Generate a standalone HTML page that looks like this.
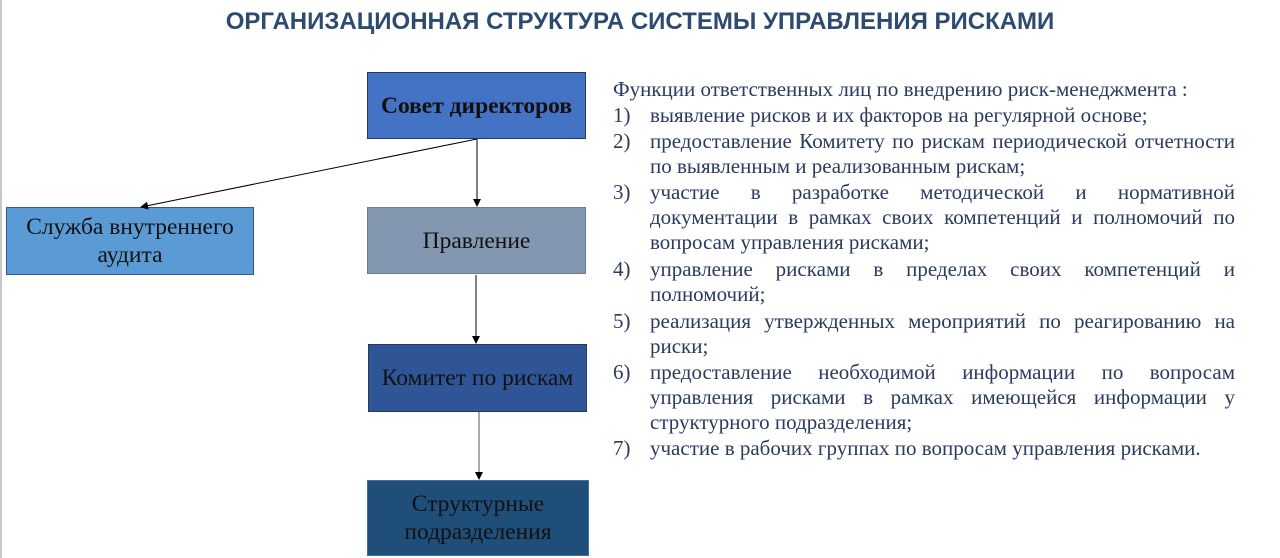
<!DOCTYPE html>
<html><head><meta charset="utf-8"><style>
body{margin:0;width:1280px;height:558px;background:#fff;position:relative;overflow:hidden;font-family:"Liberation Serif",serif}
.bl{position:absolute;left:0;top:0;width:2px;height:558px;background:#c8c8c8}
h1{position:absolute;top:8px;left:0;width:1280px;margin:0;text-align:center;font:bold 24px "Liberation Sans",sans-serif;color:#2d4a6f}
.box{position:absolute;box-sizing:border-box;border:1.5px solid #23395d;display:flex;align-items:center;justify-content:center;text-align:center;font-size:23.5px;line-height:28px;color:#111}
.t{position:absolute;font-size:21px;color:#2b3a5e;white-space:nowrap;line-height:25px}
.n{left:613px}
.l{left:650px;width:585px}
.j{text-align:justify;text-align-last:justify}
</style></head><body>
<div class="bl"></div>
<h1>ОРГАНИЗАЦИОННАЯ СТРУКТУРА СИСТЕМЫ УПРАВЛЕНИЯ РИСКАМИ</h1>
<div class="box" style="left:367px;top:72px;width:219px;height:67px;background:#4472c4;font-weight:bold">Совет директоров</div>
<div class="box" style="left:6px;top:207px;width:248px;height:68px;background:#5b9bd5;border-color:#2e5c8a">Служба внутреннего<br>аудита</div>
<div class="box" style="left:367px;top:207px;width:219px;height:67px;background:#8497b0;border-color:#6b7b8f">Правление</div>
<div class="box" style="left:368px;top:344px;width:219px;height:68px;background:#2f5597">Комитет по рискам</div>
<div class="box" style="left:367px;top:480px;width:222px;height:76px;background:#1f4e79;border-color:#3a6fa8">Структурные<br>подразделения</div>
<svg style="position:absolute;left:0;top:0" width="1280" height="558">
<defs><marker id="a" markerWidth="8" markerHeight="8" refX="7" refY="4" orient="auto" markerUnits="userSpaceOnUse"><path d="M0,0L8,4L0,8z" fill="#000"/></marker></defs>
<g stroke="#000" stroke-width="1" fill="none">
<line x1="477" y1="139" x2="477" y2="206" marker-end="url(#a)"/>
<line x1="477" y1="139" x2="141" y2="207" marker-end="url(#a)"/>
<line x1="476" y1="275" x2="476" y2="343" marker-end="url(#a)"/>
<line x1="479" y1="412" x2="479" y2="479" marker-end="url(#a)" stroke="#555"/>
</g></svg>
<div class="t" style="left:613px;top:77px">Функции ответственных лиц по внедрению риск-менеджмента :</div>
<div class="t n" style="top:103px">1)</div><div class="t l" style="top:103px">выявление рисков и их факторов на регулярной основе;</div>
<div class="t n" style="top:129px">2)</div><div class="t l j" style="top:129px">предоставление Комитету по рискам периодической отчетности</div>
<div class="t l" style="top:154px">по выявленным и реализованным рискам;</div>
<div class="t n" style="top:180px">3)</div><div class="t l j" style="top:180px">участие в разработке методической и нормативной</div>
<div class="t l j" style="top:205px">документации в рамках своих компетенций и полномочий по</div>
<div class="t l" style="top:230px">вопросам управления рисками;</div>
<div class="t n" style="top:257px">4)</div><div class="t l j" style="top:257px">управление рисками в пределах своих компетенций и</div>
<div class="t l" style="top:282px">полномочий;</div>
<div class="t n" style="top:309px">5)</div><div class="t l j" style="top:309px">реализация утвержденных мероприятий по реагированию на</div>
<div class="t l" style="top:334px">риски;</div>
<div class="t n" style="top:360px">6)</div><div class="t l j" style="top:360px">предоставление необходимой информации по вопросам</div>
<div class="t l j" style="top:385px">управления рисками в рамках имеющейся информации у</div>
<div class="t l" style="top:410px">структурного подразделения;</div>
<div class="t n" style="top:436px">7)</div><div class="t l" style="top:436px">участие в рабочих группах по вопросам управления рисками.</div>
</body></html>
